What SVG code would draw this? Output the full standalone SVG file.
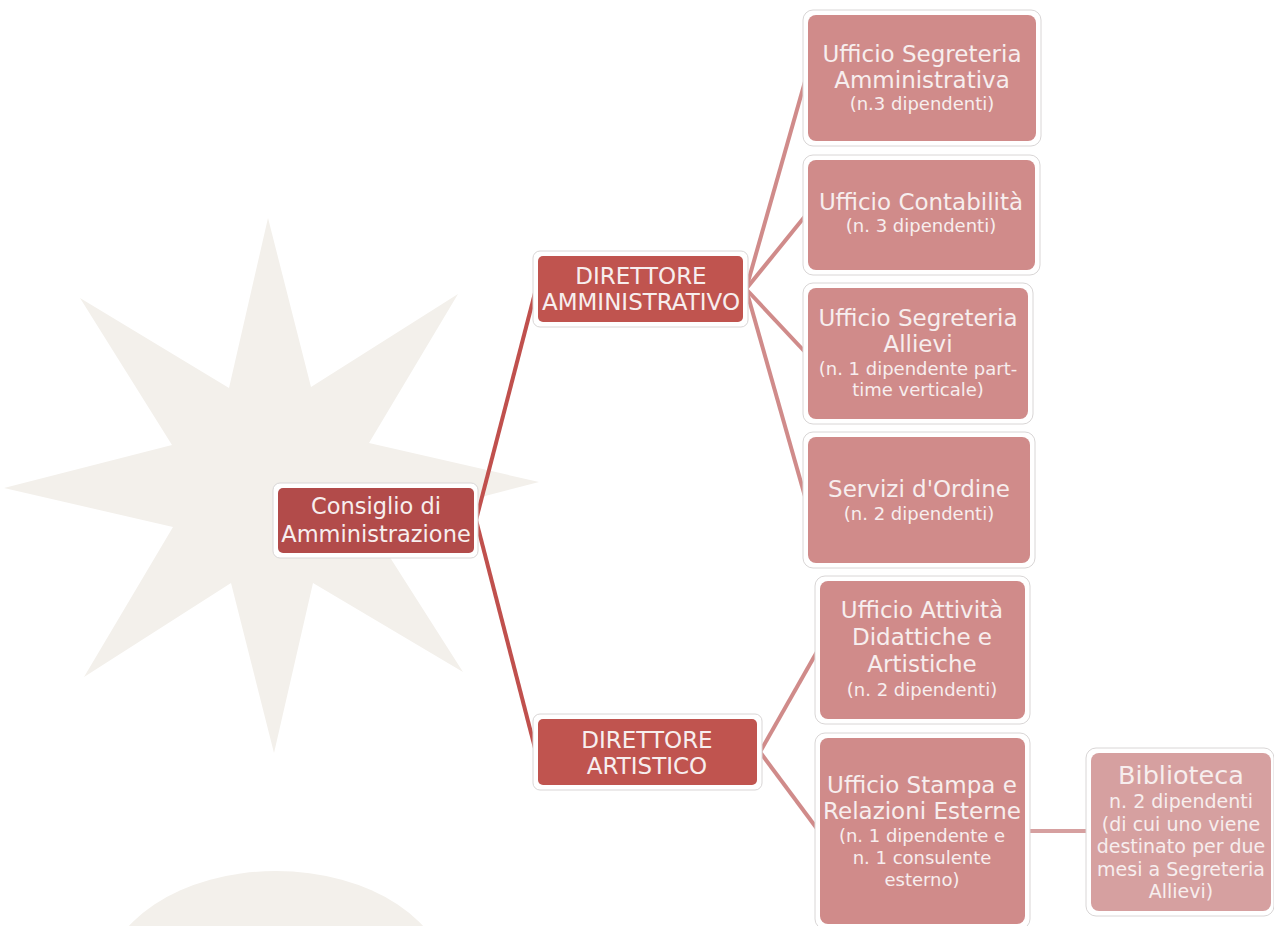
<svg xmlns="http://www.w3.org/2000/svg" width="1274" height="926" viewBox="0 0 1274 926">
<style>
.bg{fill:#f3f0eb}
.frame{fill:#ffffff;stroke:#d9d6d6;stroke-width:1}
.dark{fill:#b24b4a}
.red{fill:#c0544f}
.pink{fill:#d08b8a}
.lib{fill:#d6a0a0}
text{font-family:"DejaVu Sans","Liberation Sans",sans-serif;fill:#f7eeee;text-anchor:middle}
.m{font-size:23px}
.s{font-size:18px}
.b{font-size:19px}
.c1{stroke:#c0504d;stroke-width:4;fill:none}
.c2{stroke:#d08b8a;stroke-width:4;fill:none}
.c3{stroke:#d6a0a0;stroke-width:4;fill:none}
</style>
<rect width="1274" height="926" fill="#ffffff"/>
<g id="background">
<polygon class="bg" points="268,218 311,387 458,294 369,443 539,482 370,526 463,672 313,583 274,753 231,583 84,677 173,527 4,488 172,445 80,298 229,388"/>
<ellipse class="bg" cx="276" cy="985" rx="172" ry="114"/>
</g>
<g id="connectors">
<line class="c1" x1="476" y1="520" x2="536" y2="289"/>
<line class="c1" x1="476" y1="520" x2="536" y2="752"/>
<line class="c2" x1="746" y1="289" x2="806" y2="78"/>
<line class="c2" x1="746" y1="289" x2="806" y2="215"/>
<line class="c2" x1="746" y1="289" x2="806" y2="353"/>
<line class="c2" x1="746" y1="289" x2="806" y2="500"/>
<line class="c2" x1="760" y1="752" x2="818" y2="650"/>
<line class="c2" x1="760" y1="752" x2="818" y2="830"/>
<line class="c3" x1="1028" y1="831" x2="1089" y2="831"/>
</g>
<g id="consiglio">
<rect class="frame" x="273" y="483" width="205" height="75" rx="7"/>
<rect class="dark" x="278" y="488" width="196" height="65" rx="5"/>
<text class="m" x="376" y="514" style="font-size:22.5px">Consiglio di</text>
<text class="m" x="376" y="542" style="font-size:22.5px">Amministrazione</text>
</g>
<g id="dir-amm">
<rect class="frame" x="533" y="251" width="215" height="76" rx="7"/>
<rect class="red" x="538" y="256" width="205" height="66" rx="5"/>
<text class="m" x="641" y="284">DIRETTORE</text>
<text class="m" x="641" y="310">AMMINISTRATIVO</text>
</g>
<g id="dir-art">
<rect class="frame" x="533" y="714" width="229" height="76" rx="7"/>
<rect class="red" x="538" y="719" width="219" height="66" rx="5"/>
<text class="m" x="647" y="748">DIRETTORE</text>
<text class="m" x="647" y="774">ARTISTICO</text>
</g>
<g id="seg-amm">
<rect class="frame" x="803" y="10" width="238" height="136" rx="10"/>
<rect class="pink" x="808" y="15" width="228" height="126" rx="8"/>
<text class="m" x="922" y="62">Ufficio Segreteria</text>
<text class="m" x="922" y="88">Amministrativa</text>
<text class="s" x="922" y="110">(n.3 dipendenti)</text>
</g>
<g id="contabilita">
<rect class="frame" x="803" y="155" width="237" height="120" rx="10"/>
<rect class="pink" x="808" y="160" width="227" height="110" rx="8"/>
<text class="m" x="921" y="210">Ufficio Contabilità</text>
<text class="s" x="921" y="232">(n. 3 dipendenti)</text>
</g>
<g id="seg-allievi">
<rect class="frame" x="803" y="283" width="230" height="141" rx="10"/>
<rect class="pink" x="808" y="288" width="220" height="131" rx="8"/>
<text class="m" x="918" y="326">Ufficio Segreteria</text>
<text class="m" x="918" y="352">Allievi</text>
<text class="s" x="918" y="375">(n. 1 dipendente part-</text>
<text class="s" x="918" y="396">time verticale)</text>
</g>
<g id="servizi">
<rect class="frame" x="803" y="432" width="232" height="136" rx="10"/>
<rect class="pink" x="808" y="437" width="222" height="126" rx="8"/>
<text class="m" x="919" y="497">Servizi d'Ordine</text>
<text class="s" x="919" y="520">(n. 2 dipendenti)</text>
</g>
<g id="attivita">
<rect class="frame" x="815" y="576" width="215" height="148" rx="10"/>
<rect class="pink" x="820" y="581" width="205" height="138" rx="8"/>
<text class="m" x="922" y="618">Ufficio Attività</text>
<text class="m" x="922" y="645">Didattiche e</text>
<text class="m" x="922" y="672">Artistiche</text>
<text class="s" x="922" y="696">(n. 2 dipendenti)</text>
</g>
<g id="stampa">
<rect class="frame" x="815" y="733" width="215" height="196" rx="10"/>
<rect class="pink" x="820" y="738" width="205" height="186" rx="8"/>
<text class="m" x="922" y="793">Ufficio Stampa e</text>
<text class="m" x="922" y="819">Relazioni Esterne</text>
<text class="s" x="922" y="842">(n. 1 dipendente e</text>
<text class="s" x="922" y="864">n. 1 consulente</text>
<text class="s" x="922" y="886">esterno)</text>
</g>
<g id="biblioteca">
<rect class="frame" x="1086" y="748" width="188" height="168" rx="10"/>
<rect class="lib" x="1091" y="753" width="180" height="158" rx="8"/>
<text x="1181" y="784" style="font-size:25.5px">Biblioteca</text>
<text class="b" x="1181" y="808">n. 2 dipendenti</text>
<text class="b" x="1181" y="831">(di cui uno viene</text>
<text class="b" x="1181" y="853">destinato per due</text>
<text class="b" x="1181" y="876">mesi a Segreteria</text>
<text class="b" x="1181" y="898">Allievi)</text>
</g>
</svg>
